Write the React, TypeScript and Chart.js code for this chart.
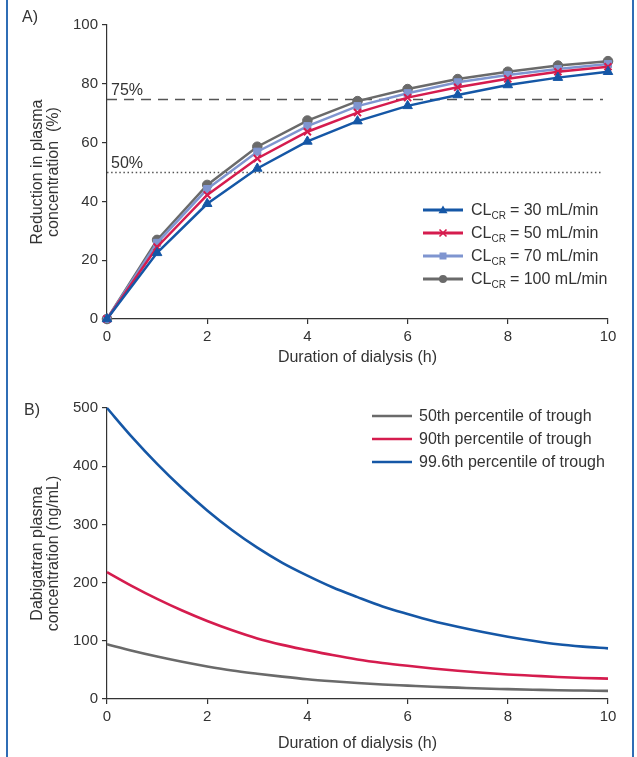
import React, { useEffect, useRef } from 'react';
import { Chart, registerables } from 'chart.js';

Chart.register(...registerables);

// ---------- Data ----------
const hoursA = [0, 1, 2, 3, 4, 5, 6, 7, 8, 9, 10];
const cl30 = [0, 22.5, 39.2, 51.2, 60.4, 67.3, 72.5, 76.2, 79.6, 82.1, 84.1];
const cl50 = [0, 24.5, 42.2, 54.6, 63.7, 70.2, 75.3, 78.8, 81.7, 84.1, 85.8];
const cl70 = [0, 25.9, 44.2, 56.9, 65.6, 72.4, 76.8, 80.5, 83.0, 85.0, 86.7];
const cl100 = [0, 26.9, 45.6, 58.6, 67.5, 74.1, 78.2, 81.6, 84.1, 86.2, 87.7];
const legendA = ['= 30 mL/min', '= 50 mL/min', '= 70 mL/min', '= 100 mL/min'];
const refLevels = [75, 50];
const refLabels = ['75%', '50%'];

const hoursB = [0, 0.5, 1, 1.5, 2, 2.5, 3, 3.5, 4, 4.5, 5, 5.5, 6, 6.5, 7, 7.5, 8, 8.5, 9, 9.5, 10];
const p50 = [94, 83, 73, 64, 56, 49, 43.5, 38.5, 34, 30.5, 27.5, 25, 23, 21, 19.5, 18, 17, 16, 15, 14.5, 14];
const p90 = [218, 194, 172, 152, 134, 118, 104, 93, 84, 75.5, 68, 62, 57, 52.5, 48.5, 45, 42.2, 40, 37.8, 36.2, 35];
const p996 = [500, 450, 404, 362, 324, 290, 260, 234, 212, 192, 175, 159, 146, 134, 124, 115, 107, 100, 94, 90, 87];
const legendB = ['50th percentile of trough', '90th percentile of trough', '99.6th percentile of trough'];

const xTicks = [0, 2, 4, 6, 8, 10];
const yTicksA = [0, 20, 40, 60, 80, 100];
const yTicksB = [0, 100, 200, 300, 400, 500];

// ---------- Styles ----------
const FONT = "'Liberation Sans', Arial, Helvetica, sans-serif";
const TEXT = '#333333';
const BLUE = '#1557a6';
const RED = '#d51c4e';
const LBLUE = '#7f95d0';
const GREY = '#6a6a6a';

const axis = (min: number, max: number, ticksArr: number[], fitProp: 'width' | 'height', fitVal: number) => ({
  type: 'linear' as const,
  min,
  max,
  afterBuildTicks: (s: any) => {
    s.ticks = ticksArr.map((v) => ({ value: v }));
  },
  afterFit: (s: any) => {
    s[fitProp] = fitVal;
  },
  ticks: { color: TEXT, font: { family: FONT, size: 15 }, padding: 4, autoSkip: false, maxRotation: 0 },
  grid: { display: true, drawOnChartArea: false, drawTicks: true, tickLength: 5, color: '#333', lineWidth: 1.2 },
  border: { display: true, color: '#333', width: 1.2 },
});

function drawRotTitle(ctx: CanvasRenderingContext2D, lines: string[], xs: number[], cy: number) {
  ctx.save();
  ctx.fillStyle = TEXT;
  ctx.font = `16px ${FONT}`;
  ctx.textAlign = 'center';
  ctx.textBaseline = 'alphabetic';
  lines.forEach((t, i) => {
    ctx.save();
    ctx.translate(xs[i], cy);
    ctx.rotate(-Math.PI / 2);
    ctx.fillText(t, 0, 0);
    ctx.restore();
  });
  ctx.restore();
}

function drawMarker(ctx: CanvasRenderingContext2D, kind: string, x: number, y: number, color: string) {
  ctx.save();
  ctx.fillStyle = color;
  ctx.strokeStyle = color;
  ctx.lineWidth = 1.6;
  ctx.beginPath();
  if (kind === 'triangle') {
    ctx.moveTo(x, y - 4.5);
    ctx.lineTo(x + 4.5, y + 3.2);
    ctx.lineTo(x - 4.5, y + 3.2);
    ctx.closePath();
    ctx.fill();
  } else if (kind === 'cross') {
    ctx.moveTo(x - 3.5, y - 3.5);
    ctx.lineTo(x + 3.5, y + 3.5);
    ctx.moveTo(x + 3.5, y - 3.5);
    ctx.lineTo(x - 3.5, y + 3.5);
    ctx.stroke();
  } else if (kind === 'rect') {
    ctx.rect(x - 3.5, y - 3.5, 7, 7);
    ctx.fill();
  } else {
    ctx.arc(x, y, 4, 0, Math.PI * 2);
    ctx.fill();
  }
  ctx.restore();
}

const overlayA = {
  id: 'overlayA',
  beforeDatasetsDraw(chart: any) {
    const { ctx, scales } = chart;
    const x0 = scales.x.getPixelForValue(0);
    const x1 = scales.x.getPixelForValue(9.9);
    ctx.save();
    ctx.strokeStyle = '#555';
    ctx.lineWidth = 1.5;
    refLevels.forEach((lv, i) => {
      const y = Math.round(scales.y.getPixelForValue(lv)) + 0.5;
      ctx.setLineDash(i === 0 ? [10, 7] : [1.5, 2.6]);
      ctx.beginPath();
      ctx.moveTo(x0, y);
      ctx.lineTo(x1, y);
      ctx.stroke();
    });
    ctx.restore();
  },
  afterDraw(chart: any) {
    const { ctx, scales, chartArea } = chart;
    ctx.save();
    ctx.fillStyle = TEXT;
    ctx.font = `16px ${FONT}`;
    ctx.textAlign = 'left';
    ctx.textBaseline = 'alphabetic';
    ctx.fillText('A)', 22, 22);
    refLevels.forEach((lv, i) => {
      ctx.fillText(refLabels[i], 111, scales.y.getPixelForValue(lv) - 4);
    });
    ctx.textAlign = 'center';
    ctx.fillText('Duration of dialysis (h)', (chartArea.left + chartArea.right) / 2, 362);
    ctx.restore();
    drawRotTitle(ctx, ['Reduction in plasma', 'concentration  (%)'], [42, 58], (chartArea.top + chartArea.bottom) / 2);

    // legend
    const colors = [BLUE, RED, LBLUE, GREY];
    const kinds = ['triangle', 'cross', 'rect', 'circle'];
    colors.forEach((c, i) => {
      const y = 210 + i * 23;
      ctx.save();
      ctx.strokeStyle = c;
      ctx.lineWidth = 3;
      ctx.beginPath();
      ctx.moveTo(423, y);
      ctx.lineTo(463, y);
      ctx.stroke();
      ctx.restore();
      drawMarker(ctx, kinds[i], 443, y, c);
      ctx.save();
      ctx.fillStyle = TEXT;
      ctx.textAlign = 'left';
      ctx.textBaseline = 'alphabetic';
      ctx.font = `16px ${FONT}`;
      let x = 471;
      ctx.fillText('CL', x, y + 5);
      x += ctx.measureText('CL').width;
      ctx.font = `10px ${FONT}`;
      ctx.fillText('CR', x, y + 9);
      x += ctx.measureText('CR').width + 4;
      ctx.font = `16px ${FONT}`;
      ctx.fillText(legendA[i], x, y + 5);
      ctx.restore();
    });
  },
};

const overlayB = {
  id: 'overlayB',
  afterDraw(chart: any) {
    const { ctx, chartArea } = chart;
    ctx.save();
    ctx.fillStyle = TEXT;
    ctx.font = `16px ${FONT}`;
    ctx.textAlign = 'left';
    ctx.textBaseline = 'alphabetic';
    ctx.fillText('B)', 24, 35);
    ctx.textAlign = 'center';
    ctx.fillText('Duration of dialysis (h)', (chartArea.left + chartArea.right) / 2, 368);
    ctx.restore();
    drawRotTitle(ctx, ['Dabigatran plasma', 'concentration (ng/mL)'], [42, 58], (chartArea.top + chartArea.bottom) / 2);

    const colors = [GREY, RED, BLUE];
    colors.forEach((c, i) => {
      const y = 36 + i * 23;
      ctx.save();
      ctx.strokeStyle = c;
      ctx.lineWidth = 2.6;
      ctx.beginPath();
      ctx.moveTo(372, y);
      ctx.lineTo(412, y);
      ctx.stroke();
      ctx.fillStyle = TEXT;
      ctx.font = `16px ${FONT}`;
      ctx.textAlign = 'left';
      ctx.textBaseline = 'alphabetic';
      ctx.fillText(legendB[i], 419, y + 5);
      ctx.restore();
    });
  },
};

function ChartA() {
  const ref = useRef<HTMLCanvasElement>(null);
  useEffect(() => {
    if (!ref.current) return;
    const mk = (vals: number[], color: string, style: string, radius: number, bw: number) => ({
      data: hoursA.map((x, i) => ({ x, y: vals[i] })),
      borderColor: color,
      backgroundColor: color,
      borderWidth: 2.5,
      pointStyle: style,
      pointRadius: radius,
      pointBorderWidth: bw,
      pointBackgroundColor: color,
      pointBorderColor: color,
      tension: 0,
      clip: false as any,
    });
    const chart = new Chart(ref.current, {
      type: 'line',
      data: {
        datasets: [
          mk(cl30, BLUE, 'triangle', 5.5, 1),
          mk(cl50, RED, 'crossRot', 5, 2),
          mk(cl70, LBLUE, 'rect', 5, 1),
          mk(cl100, GREY, 'circle', 4.8, 1),
        ] as any,
      },
      options: {
        animation: false,
        responsive: false,
        maintainAspectRatio: false,
        devicePixelRatio: 1,
        layout: { padding: { left: 0, right: 29, top: 25, bottom: 0 } },
        plugins: { legend: { display: false }, tooltip: { enabled: false } },
        scales: {
          x: axis(0, 10, xTicks, 'height', 61) as any,
          y: axis(0, 100, yTicksA, 'width', 107) as any,
        },
      },
      plugins: [overlayA],
    });
    return () => chart.destroy();
  }, []);
  return <canvas ref={ref} width={637} height={380} style={{ position: 'absolute', left: 0, top: 0, width: 637, height: 380 }} />;
}

function ChartB() {
  const ref = useRef<HTMLCanvasElement>(null);
  useEffect(() => {
    if (!ref.current) return;
    const mk = (vals: number[], color: string) => ({
      data: hoursB.map((x, i) => ({ x, y: vals[i] })),
      borderColor: color,
      backgroundColor: color,
      borderWidth: 2.6,
      pointRadius: 0,
      cubicInterpolationMode: 'monotone' as const,
      clip: false as any,
    });
    const chart = new Chart(ref.current, {
      type: 'line',
      data: {
        datasets: [mk(p50, GREY), mk(p90, RED), mk(p996, BLUE)] as any,
      },
      options: {
        animation: false,
        responsive: false,
        maintainAspectRatio: false,
        devicePixelRatio: 1,
        layout: { padding: { left: 0, right: 29, top: 28, bottom: 0 } },
        plugins: { legend: { display: false }, tooltip: { enabled: false } },
        scales: {
          x: axis(0, 10, xTicks, 'height', 58) as any,
          y: axis(0, 500, yTicksB, 'width', 107) as any,
        },
      },
      plugins: [overlayB],
    });
    return () => chart.destroy();
  }, []);
  return <canvas ref={ref} width={637} height={377} style={{ position: 'absolute', left: 0, top: 380, width: 637, height: 377 }} />;
}

export default function App() {
  return (
    <div style={{ position: 'absolute', left: 0, top: 0, width: 637, height: 757, background: '#fff', overflow: 'hidden' }}>
      <ChartA />
      <ChartB />
      <div style={{ position: 'absolute', left: 6, top: 0, width: 2, height: 757, background: '#2f6db5' }} />
      <div style={{ position: 'absolute', left: 632, top: 0, width: 2, height: 757, background: '#2f6db5' }} />
    </div>
  );
}
